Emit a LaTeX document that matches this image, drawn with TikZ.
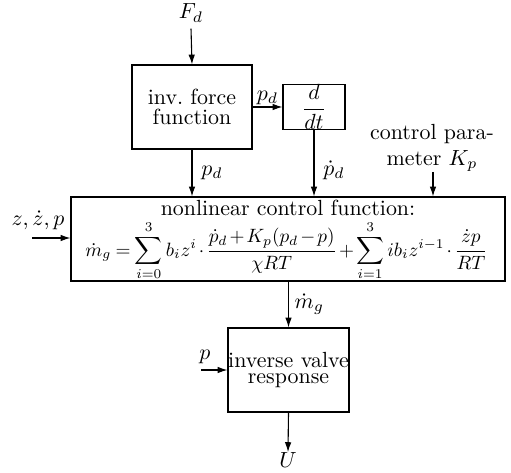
\documentclass[tikz,border=0pt]{standalone}
\usepackage{graphicx}
\usetikzlibrary{arrows.meta}
\begin{document}
\begin{tikzpicture}[x=0.4566pt,y=-0.4566pt,
  blk/.style={draw,line width=0.5pt,inner sep=0pt,align=center},
  lbl/.style={inner sep=0pt},
  arr/.style={-{Latex[length=4.5pt,width=3pt]},line width=0.5pt}]
\useasboundingbox (0,0) rectangle (511,472);
% blocks
\node[blk,minimum width=120*0.4566pt,minimum height=84*0.4566pt,
  font=\fontsize{10}{9}\selectfont] (inv) at (192,107) {inv.\ force\\function};
\node[blk,minimum width=62*0.4566pt,minimum height=44*0.4566pt] (ddt) at (314,107) {$\displaystyle\frac{d}{dt}$};
\node[blk,minimum width=434*0.4566pt,minimum height=84*0.4566pt] (ctrl) at (288,239) {};
\node[lbl,anchor=base] (ctrltitle) at (288,215) {nonlinear control function:};
\node[lbl] (formula) at (286.5,251) {\medmuskip=2mu\thickmuskip=4mu\scalebox{0.88}{$\displaystyle \dot m_g=\sum_{i=0}^{3} b_i z^i\cdot\frac{\dot p_d+K_p(p_d-p)}{\chi RT}+\sum_{i=1}^{3} i b_i z^{i-1}\cdot\frac{\dot z p}{RT}$}};
\node[blk,minimum width=121*0.4566pt,minimum height=84*0.4566pt,
  font=\fontsize{10}{7}\selectfont] (valve) at (288.5,370) {inverse valve\\response};
% labels
\node[lbl] (Fd) at (191,13) {$F_d$};
\node[lbl,align=center,anchor=south] (kp) at (432,172) {control para-\\meter $K_p$};
\coordinate (kpx) at (433,0);
\node[lbl] (zlbl) at (38,220) {$z,\dot z,p$};
\coordinate (zin) at (32,238);
\node[lbl] (plbl) at (205,357) {$p$};
\coordinate (pin) at (201,370);
\node[lbl] (U) at (288,460) {$U$};
% connectors
\draw[arr] (Fd.south) ++(0,6) -- (inv.north);
\draw[arr] (inv.east) -- node[lbl,above=1pt] (pd1) {$p_d$} (ddt.west);
\draw[arr] (inv.south) -- node[lbl,right=4pt] (pd2) {$p_d$} (inv.south |- ctrl.north);
\draw[arr] (ddt.south) -- node[lbl,right=4pt,pos=0.6] (pdd) {$\dot p_d$} (ddt.south |- ctrl.north);
\draw[arr] (kp.south -| kpx) -- (kpx |- ctrl.north);
\draw[arr] (zin) -- (zin -| ctrl.west);
\draw[arr] (ctrl.south -| valve.north) -- node[lbl,right=2.5pt] (mg) {$\dot m_g$} (valve.north);
\draw[arr] (pin) -- (pin -| valve.west);
\draw[arr] (valve.south) -- (U.north);
\end{tikzpicture}
\end{document}
